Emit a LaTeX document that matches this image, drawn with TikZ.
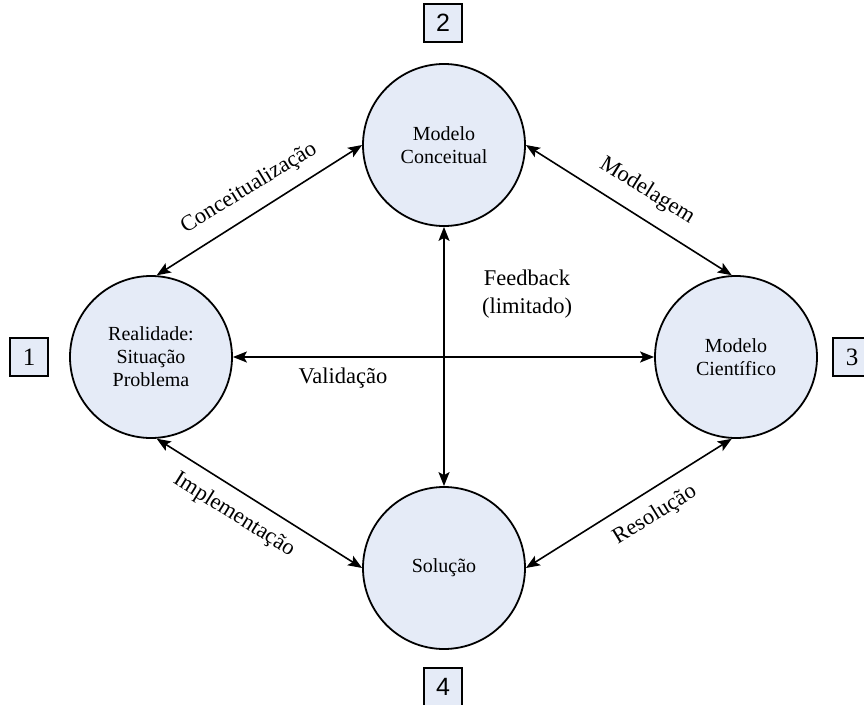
\documentclass[tikz,border=0pt]{standalone}
\usepackage{fontspec}
\setmainfont{Liberation Serif}
\newfontfamily\numsans{Liberation Sans}
\usetikzlibrary{arrows.meta}
\definecolor{stagefill}{HTML}{E5EBF7}
\begin{document}
\begin{tikzpicture}[x=1pt,y=-1pt,
  stage/.style={circle, draw=black, line width=1.8pt, fill=stagefill,
    minimum size=162pt, inner sep=0pt, align=center,
    font=\fontsize{20}{23}\selectfont},
  tag/.style={draw=black, line width=1.5pt, fill=stagefill,
    minimum size=38pt, inner sep=0pt, font=\fontsize{25}{25}\selectfont},
  link/.style={line width=1.6pt,
    {Stealth[length=14pt,width=11pt,inset=3pt]}-{Stealth[length=14pt,width=11pt,inset=3pt]}},
  lbl/.style={font=\fontsize{22.5}{28}\selectfont, align=center, inner sep=0pt}]
\useasboundingbox (0,0) rectangle (864,704);

% the four stages of the cycle
\node[stage] (c1) at (151,357) {Realidade:\\Situação\\Problema};
\node[stage] (c2) at (444,145) {Modelo\\Conceitual};
\node[stage] (c3) at (736,357) {Modelo\\Científico};
\node[stage] (c4) at (444,568) {Solução};

% numbered tags
\node[tag] (t1) at (29,357) {1};
\node[tag] (t2) at (443,23) {\numsans 2};
\node[tag] (t3) at (852,357) {3};
\node[tag] (t4) at (443,687) {\numsans 4};

% connectors
\draw[link] (c1.86) -- (c2.west);
\draw[link] (c2.east) -- (c3.93);
\draw[link] (c1.274) -- (c4.west);
\draw[link] (c4.east) -- (c3.267);
\draw[link] (c1.east) -- (c3.west);
\draw[link] (c2.south) -- (c4.north);

% connector labels
\node[lbl, rotate=31.5] (lconc) at (249,188) {Conceitualização};
\node[lbl, rotate=-32] (lmod) at (647,191) {Modelagem};
\node[lbl, rotate=-32] (limp) at (234,515) {Implementação};
\node[lbl, rotate=31.6] (lres) at (655,515) {Resolução};
\node[lbl] (lfb) at (527,294) {Feedback\\(limitado)};
\node[lbl] (lval) at (343,378) {Validação};
\end{tikzpicture}
\end{document}
